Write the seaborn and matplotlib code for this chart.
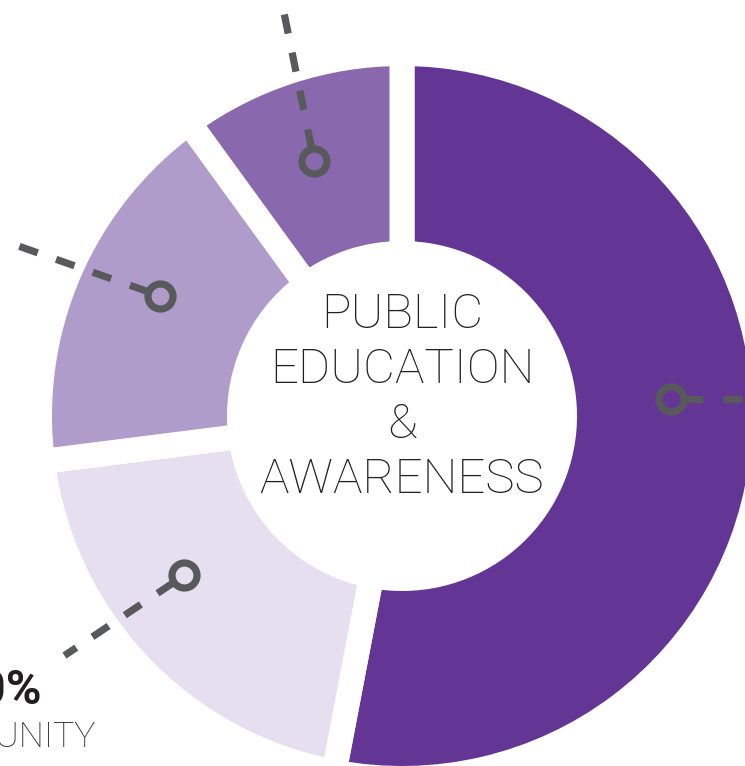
import numpy as np
import matplotlib
matplotlib.use("Agg")
import matplotlib.pyplot as plt
import seaborn as sns

# shares of the ring (%), clockwise from 12 o'clock
segments = ["Public education & awareness", "Community", "Partners", "Other"]
shares = [53, 20, 17, 10]
palette_hex = ["#633695", "#e5dff0", "#b09ccb", "#8a68ad"]
center_title = ["PUBLIC", "EDUCATION", "&", "AWARENESS"]
callout_value = "20%"
callout_label = "COMMUNITY"

sns.set_theme(style="white")
plt.rcParams["font.family"] = ["Roboto", "DejaVu Sans"]
plt.rcParams["lines.scale_dashes"] = False

W, H = 745, 766
PT = 0.72  # points per pixel at 100 dpi
fig = plt.figure(figsize=(W / 100, H / 100), dpi=100)
ax = fig.add_axes([0, 0, 1, 1])

# ring geometry in pixels
cx, cy = 402, H - 416
r_out, r_in, gap = 350, 175, 25

colors = sns.color_palette(palette_hex)
ax.pie(shares, colors=colors, startangle=90, counterclock=False,
       center=(cx, cy), radius=r_out + gap / 2,
       wedgeprops=dict(width=r_out - r_in + gap, edgecolor="white",
                       linewidth=gap * PT))

# leader lines with ring markers
gray = "#58595b"
fr = np.array(shares) / sum(shares)
mids = np.cumsum(fr) * 360 - fr * 180
ring_shift = [-9, 7, 3, -1]          # deg, nudge from wedge middle
leader_dir = [0, 213.8, 160.6, 101.5]  # deg, screen direction
leader_len = [200, 144, 153, 152]
ring_r = 270
ends = []
for m, sh, d, L in zip(mids, ring_shift, leader_dir, leader_len):
    a = np.deg2rad(90 - (m + sh))
    x0, y0 = cx + ring_r * np.cos(a), cy + ring_r * np.sin(a)
    ux, uy = np.cos(np.deg2rad(d)), np.sin(np.deg2rad(d))
    ax.plot([x0 + ux * 14, x0 + ux * 32], [y0 + uy * 14, y0 + uy * 32],
            color=gray, lw=5.2, solid_capstyle="butt")
    ax.plot([x0 + ux * 52, x0 + ux * L], [y0 + uy * 52, y0 + uy * L],
            color=gray, lw=5.2, dashes=(14, 14), dash_capstyle="butt")
    ax.plot([x0], [y0], marker="o", ms=18, mfc="none", mec=gray, mew=5.2)
    ends.append((x0 + ux * L, y0 + uy * L))

# callout text for the community slice
ex, ey = ends[1]
ax.text(ex - 22, ey - 48, callout_value, ha="right", va="baseline",
        fontsize=35, fontweight="bold", color="#231f20")
ax.text(ex + 31, ey - 91, callout_label, ha="right", va="baseline",
        fontsize=25.5, fontweight="light", color="#333333")

# centre title
for i, line in enumerate(center_title):
    ax.text(cx, cy + 88 - 55 * i, line, ha="center", va="baseline",
            fontsize=35.5, fontweight="light", color="#222222")

ax.set_xlim(0, W)
ax.set_ylim(0, H)
ax.set_aspect("equal")
ax.axis("off")
fig.savefig("out.png", dpi=100)
